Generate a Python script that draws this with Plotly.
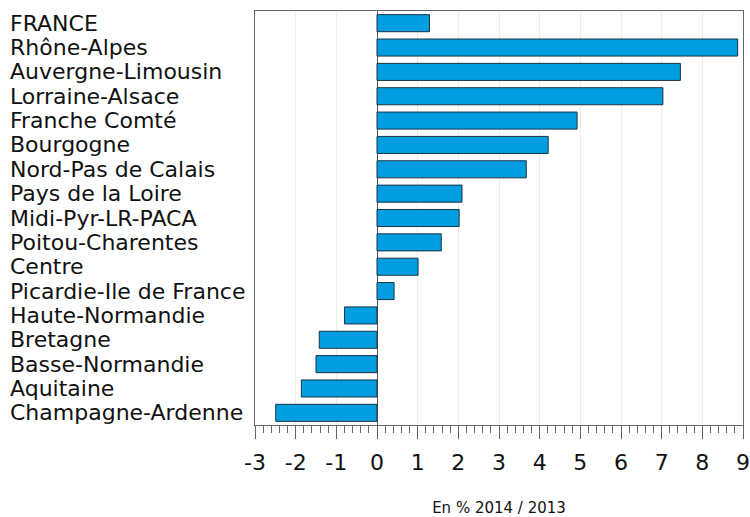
import plotly.graph_objects as go

regions = ["FRANCE", "Rhône-Alpes", "Auvergne-Limousin", "Lorraine-Alsace",
           "Franche Comté", "Bourgogne", "Nord-Pas de Calais", "Pays de la Loire",
           "Midi-Pyr-LR-PACA", "Poitou-Charentes", "Centre", "Picardie-Ile de France",
           "Haute-Normandie", "Bretagne", "Basse-Normandie", "Aquitaine",
           "Champagne-Ardenne"]
values = [1.29, 8.87, 7.46, 7.03, 4.92, 4.21, 3.67, 2.09, 2.02, 1.58, 1.01, 0.42,
          -0.80, -1.42, -1.50, -1.86, -2.49]
x_ticks = [-3, -2, -1, 0, 1, 2, 3, 4, 5, 6, 7, 8, 9]
x_title = "En % 2014 / 2013"

pos = list(range(len(regions)))

FW, FH = 750, 517
L, R, T, B = 255, 7, 11, 92
W = FW - L - R

fig = go.Figure()
fig.add_trace(go.Bar(
    x=values, y=pos, orientation="h", width=0.7,
    marker=dict(color="#009ee0", line=dict(color="#1b3344", width=1)),
    hoverinfo="x+text", text=regions, textposition="none",
))

for p, name in zip(pos, regions):
    fig.add_annotation(x=(8 - L) / W, xref="paper", y=p, yref="y", text=name,
                       showarrow=False, xanchor="left", yanchor="middle",
                       font=dict(family="DejaVu Sans", size=22, color="#111"))

fig.update_layout(
    width=FW, height=FH,
    margin=dict(l=L, r=R, t=T, b=B, pad=0),
    paper_bgcolor="white", plot_bgcolor="white",
    showlegend=False,
    font=dict(family="DejaVu Sans", color="#111"),
    xaxis=dict(
        range=[-3, 9], tickvals=x_ticks, ticktext=[str(t) for t in x_ticks],
        automargin=False,
        showgrid=True, gridcolor="#efeee0", gridwidth=1,
        zeroline=True, zerolinecolor="#555", zerolinewidth=1,
        showline=True, linecolor="#666", linewidth=1, mirror=True,
        ticks="outside", ticklen=13, tickcolor="#666", tickwidth=1,
        ticklabelstandoff=5,
        minor=dict(dtick=0.2, tick0=0, ticks="outside", ticklen=7, tickcolor="#666", showgrid=False),
        tickfont=dict(size=22, color="#111"),
        title=dict(text=x_title, font=dict(size=15, color="#111"), standoff=30),
    ),
    yaxis=dict(
        range=[16.5, -0.5], showticklabels=False, showgrid=False, zeroline=False,
        automargin=False,
        showline=True, linecolor="#666", linewidth=1, mirror=True, ticks="",
    ),
)

fig.write_html("out.html", config={"displayModeBar": False},
               post_script="document.body.style.margin='0';document.body.style.overflow='hidden';")
